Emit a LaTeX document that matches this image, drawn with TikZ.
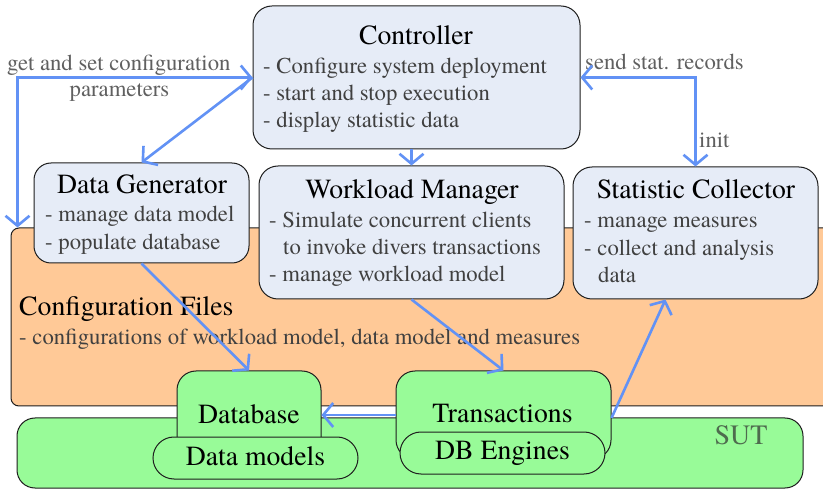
\documentclass[tikz,border=0pt]{standalone}
\usepackage{fontspec}
\IfFontExistsTF{texgyretermes-regular.otf}
  {\setmainfont{texgyretermes-regular.otf}[BoldFont=texgyretermes-bold.otf]}
  {\setmainfont{Liberation Serif}}
\usetikzlibrary{arrows.meta}
\definecolor{boxblue}{RGB}{230,236,247}
\definecolor{cfgorange}{RGB}{255,201,151}
\definecolor{sutgreen}{RGB}{152,251,152}
\definecolor{linkblue}{RGB}{98,146,245}
\definecolor{bodygray}{RGB}{64,64,64}
\definecolor{labelgray}{RGB}{96,96,96}
\definecolor{sutlabel}{RGB}{78,108,78}
\definecolor{edge}{RGB}{30,30,30}
\tikzset{
  panel/.style={draw=edge, line width=1pt, fill=boxblue, rounded corners=19pt, inner sep=0pt},
  greenbox/.style={draw=edge, line width=1pt, fill=sutgreen, rounded corners=19pt, inner sep=0pt},
  pill/.style={draw=edge, line width=1pt, fill=sutgreen, rounded corners=21pt, inner sep=0pt},
  title/.style={font=\fontsize{27.7pt}{33pt}\selectfont, text=black, inner sep=0pt, anchor=base},
  body/.style={font=\fontsize{22.7pt}{27pt}\selectfont, text=bodygray, inner sep=0pt, anchor=base west},
  note/.style={font=\fontsize{22.7pt}{27pt}\selectfont, text=labelgray, inner sep=0pt},
  link/.style={draw=linkblue, line width=2.6pt,
    >={Straight Barb[length=10pt,width=24pt]}},
}
\begin{document}
\begin{tikzpicture}[x=1pt,y=-1pt]
\clip (0,0) rectangle (823,489);
\fill[white] (0,0) rectangle (823,489);

% background areas
\node[draw=edge, line width=1pt, fill=cfgorange, rounded corners=8pt, inner sep=0pt,
      minimum width=825pt, minimum height=178pt] (cfg) at (423.5,317) {};
\node[draw=edge, line width=1pt, fill=sutgreen, rounded corners=18pt, inner sep=0pt,
      minimum width=786pt, minimum height=70pt] (sut) at (410,453) {};
\node[font=\fontsize{28pt}{33pt}\selectfont, text=sutlabel, anchor=base] (sutlbl) at (741,445) {SUT};

% component panels
\node[panel, minimum width=327pt, minimum height=143pt] (ctrl) at (416.5,77.5) {};
\node[panel, minimum width=215pt, minimum height=100pt, rounded corners=17pt] (dg) at (141.5,213) {};
\node[panel, minimum width=305pt, minimum height=133pt] (wm) at (411.5,232.5) {};
\node[panel, minimum width=245pt, minimum height=132pt] (sc) at (695.5,233) {};

% controller text
\node[title] (ctrlT) at (416,44.5) {Controller};
\node[body] (ctrl1) at (263,74) {- Configure system deployment};
\node[body] (ctrl2) at (263,101) {- start and stop execution};
\node[body] (ctrl3) at (263,128) {- display statistic data};

% data generator text
\node[title] (dgT) at (142,194) {Data Generator};
\node[body] (dg1) at (45,222) {- manage data model};
\node[body] (dg2) at (45,250) {- populate database};

% workload manager text
\node[title] (wmT) at (412,199) {Workload Manager};
\node[body] (wm1) at (269,228) {- Simulate concurrent clients};
\node[body] (wm2) at (283,255) {to invoke divers transactions};
\node[body] (wm3) at (269,282) {- manage workload model};

% statistic collector text
\node[title] (scT) at (696,199) {Statistic Collector};
\node[body] (sc1) at (584,228) {- manage measures};
\node[body] (sc2) at (584,256) {- collect and analysis};
\node[body] (sc3) at (598,283) {data};

% configuration files text
\node[title, anchor=base west] (cfgT) at (19,316) {Configuration Files};
\node[body] (cfg1) at (19,345) {- configurations of workload model, data model and measures};

% storage and engines
\node[greenbox, minimum width=144pt, minimum height=88pt] (db) at (249,415) {};
\node[greenbox, minimum width=215pt, minimum height=88pt] (tx) at (503.5,415) {};
\node[pill, minimum width=205pt, minimum height=42pt] (dm) at (255.5,458) {};
\node[pill, minimum width=205pt, minimum height=42pt] (dbe) at (502.5,453) {};
\node[title] (dbT) at (249,424) {Database};
\node[title] (dmT) at (255.5,465) {Data models};
\node[title] (txT) at (502.5,423) {Transactions};
\node[title] (dbeT) at (502.5,460) {DB Engines};

% connector labels
\node[note, anchor=base west] (lblA) at (7,71) {get and set configuration};
\node[note, anchor=base] (lblB) at (119.5,97) {parameters};
\node[note, anchor=base west] (lblC) at (585,70) {send stat. records};
\node[note, anchor=base west] (lblD) at (699,148) {init};

% connectors
\draw[link, <->] (ctrl.west) -| ([xshift=7pt]cfg.north west);
\draw[link, ->] (ctrl.west) -- (dg.north);
\draw[link, ->] (ctrl.south -| wm.north) -- (wm.north);
\draw[link, <->] (ctrl.east) -| (sc.north);
\draw[link, ->] (dg.south) -- (db.north);
\draw[link, ->] (wm.south) -- (tx.north);
\draw[link, ->] ([yshift=-3pt]tx.east) -- ([xshift=-30pt]sc.south);
\draw[link, ->] (tx.west) -- (db.east);
\end{tikzpicture}
\end{document}
